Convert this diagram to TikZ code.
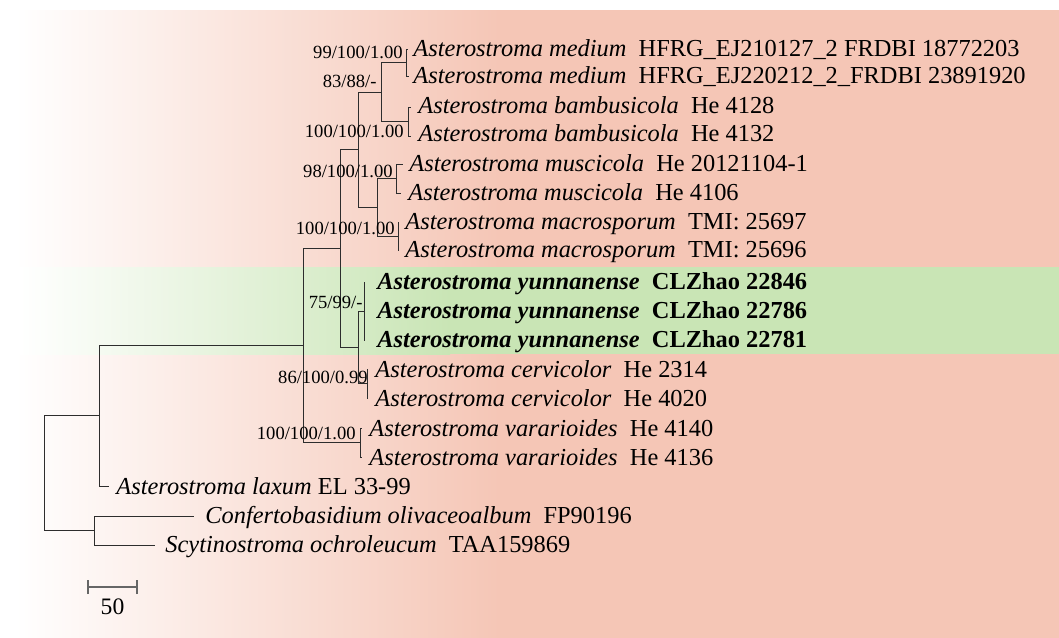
\documentclass[tikz,border=0pt]{standalone}
\usepackage{fontspec}
\setmainfont{Liberation Serif}
\definecolor{salmon}{RGB}{245,198,182}
\definecolor{leafgreen}{RGB}{201,229,181}
\definecolor{branchcol}{RGB}{45,45,45}
\begin{document}
\begin{tikzpicture}[x=0.5pt,y=-0.5pt,
  br/.style={draw=branchcol, line width=0.5pt},
  leaf/.style={anchor=base west, inner sep=0pt, font=\fontsize{12.2}{14}\selectfont},
  sup/.style={anchor=base east, inner sep=0pt, font=\fontsize{9.3}{11}\selectfont},
  sbar/.style={draw=black!60, line width=0.7pt}]
\useasboundingbox (0,0) rectangle (1059,637);
% background
\fill[white] (-5,-5) rectangle (1065,645);
\fill[white] (-5,10) rectangle (15,645);
\shade[left color=white, right color=salmon] (15,10) rectangle (500,645);
\fill[salmon] (499,10) rectangle (1065,645);
% green band
\fill[white] (-5,267) rectangle (20,354);
\shade[left color=white, right color=leafgreen] (20,267) rectangle (450,354);
\fill[leafgreen] (449,267) rectangle (1065,354);

% internal nodes
\coordinate (root) at (44,473);
\coordinate (nD) at (99,415.5);
\coordinate (nOut) at (94,530.5);
\coordinate (nC) at (303,345);
\coordinate (nB) at (340,248);
\coordinate (nVar) at (360,442.5);
\coordinate (nA) at (358,149.5);
\coordinate (nYC) at (358,347);
\coordinate (nMB) at (381,92);
\coordinate (nMM) at (377,207);
\coordinate (nMed) at (406,62.5);
\coordinate (nBam) at (408,121.5);
\coordinate (nMus) at (396,178.5);
\coordinate (nMac) at (398,236);
\coordinate (nYun) at (364,311);
\coordinate (nCer) at (367,383.5);

% leaf tips
\coordinate (t1) at (408,49);
\coordinate (t2) at (409,76);
\coordinate (t3) at (411,107);
\coordinate (t4) at (411,136);
\coordinate (t5) at (403,164);
\coordinate (t6) at (401,193);
\coordinate (t7) at (399,222);
\coordinate (t8) at (399,250);
\coordinate (t9) at (365,282);
\coordinate (t10) at (365,311);
\coordinate (t11) at (365,340);
\coordinate (t12) at (368,369);
\coordinate (t13) at (368,398);
\coordinate (t14) at (362,428);
\coordinate (t15) at (362,457);
\coordinate (t16) at (109,486);
\coordinate (t17) at (194,516);
\coordinate (t18) at (155,545);

% branches
\draw[br] (root) |- (nD);
\draw[br] (root) |- (nOut);
\draw[br] (nD) |- (nC);
\draw[br] (nD) |- (t16);
\draw[br] (nOut) |- (t17);
\draw[br] (nOut) |- (t18);
\draw[br] (nC) |- (nB);
\draw[br] (nC) |- (nVar);
\draw[br] (nB) |- (nA);
\draw[br] (nB) |- (nYC);
\draw[br] (nA) |- (nMB);
\draw[br] (nA) |- (nMM);
\draw[br] (nMB) |- (nMed);
\draw[br] (nMB) |- (nBam);
\draw[br] (nMM) |- (nMus);
\draw[br] (nMM) |- (nMac);
\draw[br] (nYC) |- (nYun);
\draw[br] (nYC) |- (nCer);
\draw[br] (nMed) |- (t1);
\draw[br] (nMed) |- (t2);
\draw[br] (nBam) |- (t3);
\draw[br] (nBam) |- (t4);
\draw[br] (nMus) |- (t5);
\draw[br] (nMus) |- (t6);
\draw[br] (nMac) |- (t7);
\draw[br] (nMac) |- (t8);
\draw[br] (nYun) |- (t9);
\draw[br] (nYun) |- (t10);
\draw[br] (nYun) |- (t11);
\draw[br] (nCer) |- (t12);
\draw[br] (nCer) |- (t13);
\draw[br] (nVar) |- (t14);
\draw[br] (nVar) |- (t15);

% leaf labels
\node[leaf] (L1) at (413,56.5) {\textit{Asterostroma medium}~~HFRG\_EJ210127\_2 FRDBI 18772203};
\node[leaf] (L2) at (413,83.5) {\textit{Asterostroma medium}~~HFRG\_EJ220212\_2\_FRDBI 23891920};
\node[leaf] (L3) at (418,113) {\textit{Asterostroma bambusicola}~~He 4128};
\node[leaf] (L4) at (418,141) {\textit{Asterostroma bambusicola}~~He 4132};
\node[leaf] (L5) at (409,171) {\textit{Asterostroma muscicola}~~He 20121104-1};
\node[leaf] (L6) at (408,200) {\textit{Asterostroma muscicola}~~He 4106};
\node[leaf] (L7) at (405,229) {\textit{Asterostroma macrosporum}~~TMI: 25697};
\node[leaf] (L8) at (405,257.5) {\textit{Asterostroma macrosporum}~~TMI: 25696};
\node[leaf] (L9) at (377,289) {\textbf{\textit{Asterostroma yunnanense}}~~\textbf{CLZhao 22846}};
\node[leaf] (L10) at (377,318) {\textbf{\textit{Asterostroma yunnanense}}~~\textbf{CLZhao 22786}};
\node[leaf] (L11) at (377,347) {\textbf{\textit{Asterostroma yunnanense}}~~\textbf{CLZhao 22781}};
\node[leaf] (L12) at (375,377) {\textit{Asterostroma cervicolor}~~He 2314};
\node[leaf] (L13) at (375,406) {\textit{Asterostroma cervicolor}~~He 4020};
\node[leaf] (L14) at (369,436) {\textit{Asterostroma vararioides}~~He 4140};
\node[leaf] (L15) at (369,465) {\textit{Asterostroma vararioides}~~He 4136};
\node[leaf] (L16) at (116,494) {\textit{Asterostroma laxum} EL 33-99};
\node[leaf] (L17) at (205,523.5) {\textit{Confertobasidium olivaceoalbum}~~FP90196};
\node[leaf] (L18) at (165,552.5) {\textit{Scytinostroma ochroleucum}~~TAA159869};

% support values
\node[sup] (s1) at (403,58) {99/100/1.00};
\node[sup] (s2) at (377,87) {83/88/-};
\node[sup] (s3) at (404,137) {100/100/1.00};
\node[sup] (s4) at (393,177) {98/100/1.00};
\node[sup] (s5) at (395,234) {100/100/1.00};
\node[sup] (s6) at (363,308) {75/99/-};
\node[sup] (s7) at (368,383) {86/100/0.99};
\node[sup] (s8) at (356,439) {100/100/1.00};

% scale bar
\coordinate (sb1) at (88,587);
\coordinate (sb2) at (137,587);
\draw[sbar] (sb1) -- (sb2);
\draw[sbar] ([yshift=-3.5]sb1) -- ([yshift=3.5]sb1);
\draw[sbar] ([yshift=-3.5]sb2) -- ([yshift=3.5]sb2);
\node[anchor=center, inner sep=0pt, font=\fontsize{11.8}{13}\selectfont] (sbl) at (112.5,606.5) {50};
\end{tikzpicture}
\end{document}
